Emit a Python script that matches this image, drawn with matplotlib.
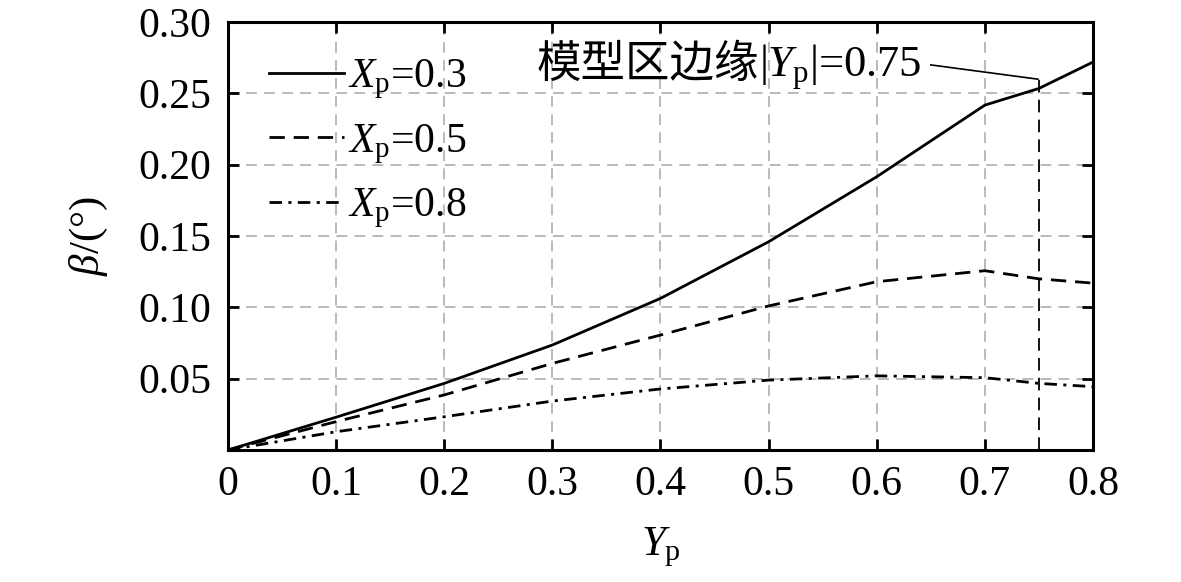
import numpy as np
import matplotlib
matplotlib.use('Agg')
import matplotlib.pyplot as plt

plt.rcParams['font.family'] = ['Liberation Serif', 'Noto Sans CJK SC']
plt.rcParams['mathtext.fontset'] = 'custom'
plt.rcParams['mathtext.rm'] = 'Liberation Serif'
plt.rcParams['mathtext.it'] = 'Liberation Serif:italic'

#%% dane
yp = [0, 0.1, 0.2, 0.3, 0.4, 0.5, 0.6, 0.7, 0.75, 0.8]
beta_03 = [0, 0.023, 0.0467, 0.0736, 0.1063, 0.146, 0.1916, 0.2418, 0.2535, 0.272]
beta_05 = [0, 0.0199, 0.0386, 0.0607, 0.0806, 0.101, 0.118, 0.1257, 0.120, 0.117]
beta_08 = [0, 0.0128, 0.0233, 0.0343, 0.0428, 0.049, 0.052, 0.0507, 0.0467, 0.0444]
labels = [r'$X_\mathrm{p}$=0.3', r'$X_\mathrm{p}$=0.5', r'$X_\mathrm{p}$=0.8']
edge = 0.75
xticks = [0, 0.1, 0.2, 0.3, 0.4, 0.5, 0.6, 0.7, 0.8]
yticks = [0.05, 0.10, 0.15, 0.20, 0.25, 0.30]

#%% wykres
fig = plt.figure(figsize=(11.81, 5.82), dpi=100)
ax = fig.add_axes([0.193, 0.2268, 0.7325, 0.7352])

ax.grid(True, ls=(0, (6, 4)), c='#b4b4b4', lw=1.3)
ax.set_axisbelow(True)

ax.plot(yp, beta_03, c='k', lw=2.0, label=labels[0])
ax.plot(yp, beta_05, c='k', lw=2.0, ls=(0, (5.5, 3.2)), label=labels[1])
ax.plot(yp, beta_08, c='k', lw=2.0, ls=(0, (4.5, 2.3, 1.1, 2.3)), label=labels[2])

ax.plot([edge, edge], [0, 0.26], c='k', lw=1.3, ls=(0, (7, 4)))

ax.set_xlim(0, 0.8)
ax.set_ylim(0, 0.30)
ax.set_xticks(xticks)
ax.set_xticklabels(['0', '0.1', '0.2', '0.3', '0.4', '0.5', '0.6', '0.7', '0.8'])
ax.set_yticks(yticks)
ax.set_yticklabels(['0.05', '0.10', '0.15', '0.20', '0.25', '0.30'])
ax.tick_params(direction='in', length=8, width=2, labelsize=30, top=True, right=True)
ax.tick_params(axis='x', pad=11)
ax.tick_params(axis='y', pad=12)
for s in ax.spines.values():
    s.set_linewidth(2.2)

ax.set_xlabel(r'$Y_\mathrm{p}$', fontsize=31, labelpad=16)
ax.set_ylabel(r'$\beta$/(°)', fontsize=31, labelpad=20)

ax.legend(loc='upper left', frameon=False, fontsize=30, handlelength=1.8,
          handletextpad=0.1, labelspacing=0.5, borderaxespad=0.0,
          bbox_to_anchor=(0.028, 0.955))

# adnotacja
ax.text(0.491, 0.2615, '模型区边缘', fontsize=32, family='Noto Sans CJK SC',
        ha='right', va='baseline')
ax.text(0.491, 0.2615, r'|$Y_\mathrm{p}$|=0.75', fontsize=32, ha='left', va='baseline')
ax.plot([0.650, 0.749], [0.270, 0.260], c='k', lw=1.2)

fig.savefig('out.png', dpi=100)
